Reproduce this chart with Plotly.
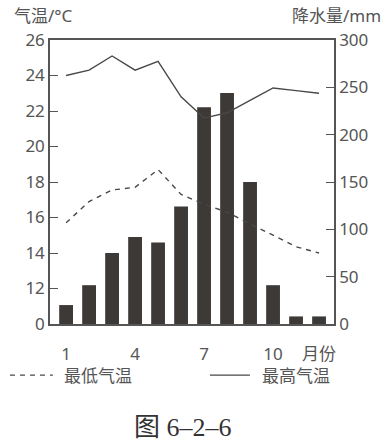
import plotly.graph_objects as go

months = list(range(1, 13))
precip_mm = [20, 41, 75, 92, 86, 124, 229, 244, 150, 41, 8, 8]
tmax_c = [24.0, 24.3, 25.1, 24.3, 24.8, 22.8, 21.6, 21.9, 22.6, 23.3, 23.15, 23.0]
tmin_c = [15.7, 16.9, 17.55, 17.7, 18.7, 17.3, 16.75, 16.3, 15.65, 15.0, 14.35, 14.0]

x_tickvals = [1, 4, 7, 10, 12]
x_ticktext = ["1", "4", "7", "10", "月份"]
t_tickvals = [10, 12, 14, 16, 18, 20, 22, 24, 26]
t_ticktext = ["0", "12", "14", "16", "18", "20", "22", "24", "26"]
p_tickvals = [0, 50, 100, 150, 200, 250, 300]

GRAY = "#555555"
LINE = "#484848"
FONT = "Noto Sans, Noto Sans CJK SC, sans-serif"
DASH = "5px,5px"

fig = go.Figure()
fig.add_trace(go.Bar(x=months, y=precip_mm, width=0.6, marker=dict(color="#3c3937", line=dict(width=0)),
                     yaxis="y", showlegend=False, name="降水量"))
fig.add_trace(go.Scatter(x=months, y=tmin_c, mode="lines", name="最低气温", yaxis="y2",
                         showlegend=False, line=dict(color=LINE, width=1.4, dash=DASH)))
fig.add_trace(go.Scatter(x=months, y=tmax_c, mode="lines", name="最高气温", yaxis="y2",
                         showlegend=False, line=dict(color=LINE, width=1.4)))

# legend keys (paper coordinates, below the plot)
leg_y = -0.18
shapes = [
    dict(type="line", xref="paper", yref="paper", x0=-0.141, x1=0.01, y0=leg_y, y1=leg_y,
         line=dict(color=LINE, width=1.4, dash=DASH)),
    dict(type="line", xref="paper", yref="paper", x0=0.563, x1=0.704, y0=leg_y, y1=leg_y,
         line=dict(color=LINE, width=1.4)),
]

fig.update_layout(
    width=387, height=444,
    margin=dict(l=50, r=53, t=40, b=120, autoexpand=False),
    paper_bgcolor="white", plot_bgcolor="white",
    font=dict(family=FONT, color=GRAY, size=17),
    showlegend=False,
    xaxis=dict(range=[0.3, 12.65], tickvals=x_tickvals, ticktext=x_ticktext, ticks="",
               showline=True, linecolor=GRAY, linewidth=1.5, mirror=True, showgrid=False,
               zeroline=False, ticklabelstandoff=14, tickfont=dict(size=17)),
    yaxis=dict(range=[0, 300], tickvals=p_tickvals, side="right", ticks="inside", ticklen=8,
               tickcolor=GRAY, showline=True, linecolor=GRAY, linewidth=1.5, showgrid=False,
               zeroline=False, tickfont=dict(size=17)),
    yaxis2=dict(range=[10, 26], tickvals=t_tickvals, ticktext=t_ticktext, side="left",
                overlaying="y", ticks="inside", ticklen=8, tickcolor=GRAY, showline=True,
                linecolor=GRAY, linewidth=1.5, showgrid=False, zeroline=False,
                tickfont=dict(size=17)),
    shapes=shapes,
    annotations=[
        dict(text="气温/°C", xref="paper", yref="paper", x=-0.135, y=1.088, xanchor="left",
             yanchor="middle", showarrow=False, font=dict(size=17, color=GRAY)),
        dict(text="降水量/mm", xref="paper", yref="paper", x=1.173, y=1.088, xanchor="right",
             yanchor="middle", showarrow=False, font=dict(size=17, color=GRAY)),
        dict(text="最低气温", xref="paper", yref="paper", x=0.042, y=leg_y, xanchor="left",
             yanchor="middle", showarrow=False, font=dict(size=17, color=GRAY)),
        dict(text="最高气温", xref="paper", yref="paper", x=0.74, y=leg_y, xanchor="left",
             yanchor="middle", showarrow=False, font=dict(size=17, color=GRAY)),
        dict(text="图 6–2–6", xref="paper", yref="paper", x=0.47, y=-0.365, xanchor="center",
             yanchor="middle", showarrow=False,
             font=dict(size=26, color="#333333", family="Liberation Serif, Noto Sans CJK SC, serif")),
    ],
)

fig.write_html("out.html", config={"displayModeBar": False},
               post_script="document.body.style.margin='0';document.body.style.overflow='hidden';")
